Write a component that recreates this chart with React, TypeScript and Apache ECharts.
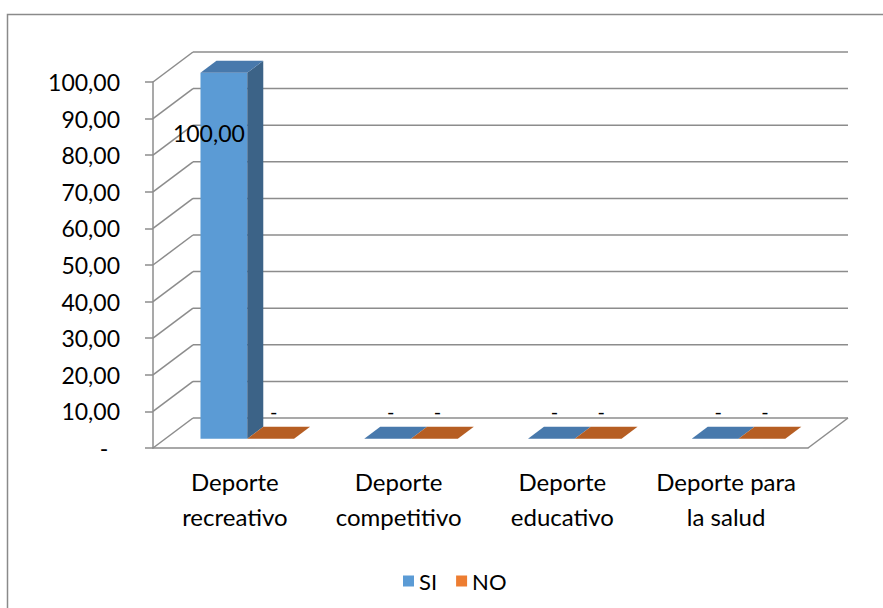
import React, { useEffect, useRef } from "react";
import * as echarts from "echarts";

// Chart data
const categories = [
  "Deporte\nrecreativo",
  "Deporte\ncompetitivo",
  "Deporte\neducativo",
  "Deporte para\nla salud",
];
const siValues = [100, 0, 0, 0];
const noValues = [0, 0, 0, 0];
const yTicks = [0, 10, 20, 30, 40, 50, 60, 70, 80, 90, 100];

// 3D projection of the depth axis (pixel shift from front plane to back wall)
const DEPTH_DX = 40;
const DEPTH_DY = -30;
const BAR_D1 = 0.31;
const BAR_D2 = 0.71;

const FONT = "Lato, 'Open Sans', sans-serif";
const GRID_COLOR = "#8c8c8c";

const fmt = (v: number) =>
  v === 0 ? "-\u00a0\u00a0" : v.toFixed(2).replace(".", ",");

type Palette = { face: string; side: string; top: string };
const siPalette: Palette = { face: "#5B9BD5", side: "#3C6387", top: "#4879AC" };
const noPalette: Palette = { face: "#ED7D31", side: "#9A4D1C", top: "#B65E23" };

function makeBarRenderer(slot: number, pal: Palette) {
  return (params: any, api: any) => {
    const idx = api.value(0);
    const v = api.value(1);
    const base = api.coord([idx, 0]);
    const top = api.coord([idx, v]);
    const band = api.size([1, 0])[0];
    const bw = band / 3.5;
    const xs = base[0] - bw + slot * bw;
    const xL = xs + DEPTH_DX * BAR_D1;
    const xR = xL + bw;
    const yT = top[1] + DEPTH_DY * BAR_D1;
    const yB = base[1] + DEPTH_DY * BAR_D1;
    const sx = DEPTH_DX * (BAR_D2 - BAR_D1);
    const sy = DEPTH_DY * (BAR_D2 - BAR_D1);
    const children: any[] = [];
    if (yB - yT > 0.01) {
      children.push({
        type: "polygon",
        shape: { points: [[xL, yB], [xR, yB], [xR, yT], [xL, yT]] },
        style: { fill: pal.face },
      });
      children.push({
        type: "polygon",
        shape: { points: [[xR, yB], [xR + sx, yB + sy], [xR + sx, yT + sy], [xR, yT]] },
        style: { fill: pal.side },
      });
    }
    children.push({
      type: "polygon",
      shape: { points: [[xL, yT], [xR, yT], [xR + sx, yT + sy], [xL + sx, yT + sy]] },
      style: { fill: pal.top },
    });
    const cx = (xL + xR) / 2;
    children.push({
      type: "text",
      z2: 10,
      style: {
        text: v === 0 ? "-" : v.toFixed(2).replace(".", ","),
        x: cx + (v > 0 ? -15 : 3),
        y: v > 0 ? yT + 60 : yT - 28,
        align: "center",
        verticalAlign: "middle",
        fontFamily: FONT,
        fontSize: v > 0 ? 23 : 20,
        fill: "#000",
      },
    });
    return { type: "group", children };
  };
}

function renderWalls(params: any, api: any) {
  const v = api.value(0);
  const cs = params.coordSys;
  const y = api.coord([0, v])[1];
  const left = cs.x;
  const right = cs.x + cs.width;
  const lineStyle = { stroke: GRID_COLOR, lineWidth: 1.5 };
  const children: any[] = [
    {
      type: "line",
      shape: { x1: left, y1: y, x2: left + DEPTH_DX, y2: y + DEPTH_DY },
      style: lineStyle,
    },
    {
      type: "line",
      shape: { x1: left + DEPTH_DX, y1: y + DEPTH_DY, x2: right + DEPTH_DX, y2: y + DEPTH_DY },
      style: lineStyle,
    },
  ];
  if (v === 0) {
    children.push({
      type: "line",
      shape: { x1: right, y1: y, x2: right + DEPTH_DX, y2: y + DEPTH_DY },
      style: lineStyle,
    });
  }
  return { type: "group", children };
}

export default function App() {
  const ref = useRef<HTMLDivElement>(null);

  useEffect(() => {
    document.body.style.margin = "0";
    if (!ref.current) return;
    const chart = echarts.init(ref.current, null, { renderer: "svg" });
    chart.setOption({
      animation: false,
      backgroundColor: "#ffffff",
      graphic: [
        {
          type: "rect",
          shape: { x: 7.5, y: 14.5, width: 890, height: 610 },
          style: { fill: "none", stroke: "#8a8a8a", lineWidth: 1.5 },
          silent: true,
        },
      ],
      legend: {
        data: ["SI", "NO"],
        left: 398,
        top: 565,
        icon: "rect",
        itemWidth: 11,
        itemHeight: 11,
        itemGap: 19,
        textStyle: { fontFamily: FONT, fontSize: 22, color: "#000" },
      },
      grid: { left: 153, top: 82, width: 655, height: 366 },
      xAxis: {
        type: "category",
        data: categories,
        axisLine: { lineStyle: { color: GRID_COLOR, width: 1.5 } },
        axisTick: { length: 7, lineStyle: { color: GRID_COLOR, width: 1.5 } },
        axisLabel: {
          margin: 16,
          fontFamily: FONT,
          fontSize: 24,
          lineHeight: 35,
          color: "#000",
          interval: 0,
        },
        splitLine: { show: false },
      },
      yAxis: {
        type: "value",
        min: 0,
        max: 100,
        interval: 10,
        axisLine: { show: true, lineStyle: { color: GRID_COLOR, width: 1.5 } },
        axisTick: { show: true, length: 8, lineStyle: { color: GRID_COLOR, width: 1.5 } },
        axisLabel: {
          margin: 33,
          fontFamily: FONT,
          fontSize: 23,
          color: "#000",
          formatter: (v: number) => fmt(v),
        },
        splitLine: { show: false },
      },
      series: [
        {
          type: "custom",
          name: "walls",
          silent: true,
          clip: false,
          z: 1,
          data: yTicks.map((t) => [t]),
          encode: { y: 0 },
          renderItem: renderWalls,
        },
        {
          type: "custom",
          name: "SI",
          clip: false,
          z: 3,
          itemStyle: { color: siPalette.face },
          data: siValues.map((v, i) => [i, v]),
          encode: { x: 0, y: 1 },
          renderItem: makeBarRenderer(0, siPalette),
        },
        {
          type: "custom",
          name: "NO",
          clip: false,
          z: 3,
          itemStyle: { color: noPalette.face },
          data: noValues.map((v, i) => [i, v]),
          encode: { x: 0, y: 1 },
          renderItem: makeBarRenderer(1, noPalette),
        },
      ],
    });
    return () => chart.dispose();
  }, []);

  return <div ref={ref} style={{ width: 883, height: 608 }} />;
}
